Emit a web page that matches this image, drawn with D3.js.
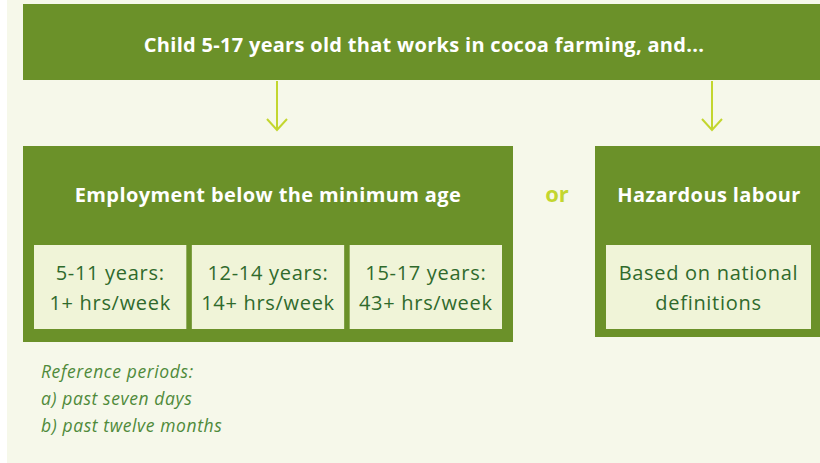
<!DOCTYPE html>
<html>
<head>
<meta charset="utf-8">
<script src="https://cdn.jsdelivr.net/npm/d3@7"></script>
<style>
  body { margin: 0; background: #ffffff; }
  svg { display: block; }
</style>
</head>
<body>
<svg id="chart" width="820" height="463"></svg>
<script>
// diagram content
let headline = "Child 5-17 years old that works in cocoa farming, and...";
let groups = ["Employment below the minimum age", "Hazardous labour"];
let ageCells = [["5-11 years:", "1+ hrs/week"], ["12-14 years:", "14+ hrs/week"], ["15-17 years:", "43+ hrs/week"]];
let hazardCells = [["Based on national", "definitions"]];
let connector = "or";
let notes = ["Reference periods:", "a) past seven days", "b) past twelve months"];

let green = "#6b9129";
let cream = "#f0f4d8";
let bg = "#f6f8ea";
let lime = "#c3d62f";
let darkText = "#2f6a2c";
let font = "'Open Sans', sans-serif";

let svg = d3.select("#chart");

// page background
svg.append("rect").attr("x", 7).attr("y", 0).attr("width", 813).attr("height", 463).attr("fill", bg);

// top banner
svg.append("rect").attr("x", 23).attr("y", 4).attr("width", 800).attr("height", 76).attr("fill", green);
svg.append("text")
    .attr("x", 424).attr("y", 52)
    .attr("text-anchor", "middle")
    .attr("font-family", font).attr("font-weight", 700).attr("font-size", 20)
    .attr("letter-spacing", 0.3)
    .attr("fill", "#ffffff")
    .text(headline);

// arrows
let arrowX = [277, 712];
let arrows = svg.selectAll(".arrow").data(arrowX).enter().append("g").attr("class", "arrow");
arrows.append("line")
    .attr("x1", d => d).attr("x2", d => d)
    .attr("y1", 81).attr("y2", 129)
    .attr("stroke", lime).attr("stroke-width", 2);
arrows.append("path")
    .attr("d", d => "M" + (d - 10) + ",119 L" + d + ",130 L" + (d + 10) + ",119")
    .attr("fill", "none").attr("stroke", lime).attr("stroke-width", 2);

// group boxes
let boxes = [
    {x: 23, y: 146, w: 490, h: 196, cellX: [34, 502], pad: 0.035, cells: ageCells},
    {x: 595, y: 146, w: 228, h: 191, cellX: [606, 811], pad: 0, cells: hazardCells}
];

boxes.forEach(function (b, i) {
    svg.append("rect").attr("x", b.x).attr("y", b.y).attr("width", b.w).attr("height", b.h).attr("fill", green);
    let cx = i == 0 ? b.x + b.w / 2 : 709;
    svg.append("text")
        .attr("x", cx).attr("y", 202)
        .attr("text-anchor", "middle")
        .attr("font-family", font).attr("font-weight", 700).attr("font-size", 20)
        .attr("letter-spacing", 0.4)
        .attr("fill", "#ffffff")
        .text(groups[i]);

    let xScale = d3.scaleBand()
        .domain(d3.range(b.cells.length))
        .range(b.cellX)
        .paddingInner(b.pad);

    let cells = svg.selectAll(".cell" + i).data(b.cells).enter().append("g").attr("class", "cell" + i);
    cells.append("rect")
        .attr("x", (d, j) => xScale(j))
        .attr("y", 245)
        .attr("width", xScale.bandwidth())
        .attr("height", 84)
        .attr("fill", cream);
    cells.selectAll("text")
        .data(d => d)
        .enter().append("text")
        .attr("x", function () {
            let j = b.cells.indexOf(d3.select(this.parentNode).datum());
            return xScale(j) + xScale.bandwidth() / 2;
        })
        .attr("y", (d, k) => 280 + k * 30)
        .attr("text-anchor", "middle")
        .attr("font-family", font).attr("font-size", 20)
        .attr("letter-spacing", 0.7)
        .attr("fill", darkText)
        .text(d => d);
});

// "or" between the boxes
svg.append("text")
    .attr("x", 557).attr("y", 202)
    .attr("text-anchor", "middle")
    .attr("font-family", font).attr("font-weight", 700).attr("font-size", 22)
    .attr("fill", lime)
    .text(connector);

// footnote
svg.selectAll(".note").data(notes).enter().append("text")
    .attr("class", "note")
    .attr("x", 41)
    .attr("y", (d, i) => 378 + i * 27)
    .attr("font-family", font).attr("font-style", "italic").attr("font-size", 17.5)
    .attr("letter-spacing", 0.6)
    .attr("fill", "#4f8a3a")
    .text(d => d);
</script>
</body>
</html>
